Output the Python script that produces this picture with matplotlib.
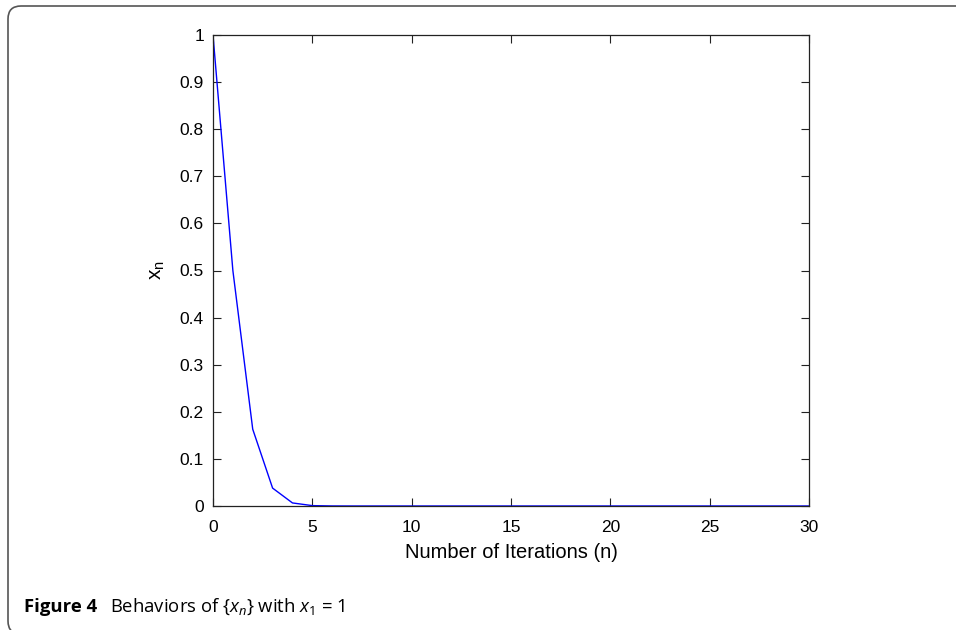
import numpy as np
import matplotlib.pyplot as plt
from matplotlib.patches import FancyBboxPatch

plt.rcParams['font.family'] = ['Liberation Sans', 'DejaVu Sans']
plt.rcParams['mathtext.fontset'] = 'custom'
plt.rcParams['mathtext.rm'] = 'Open Sans'
plt.rcParams['mathtext.it'] = 'Open Sans:italic'

n_values = np.arange(0, 31)
x_values = [1.0, 0.5, 0.163, 0.038, 0.0065, 0.0008, 0.0001] + [0.0] * 24

fig = plt.figure(figsize=(9.56, 6.3), dpi=100)

# journal figure frame (rounded, runs off the right and bottom edges)
frame = FancyBboxPatch((0.08, -0.04), 10.0, 6.28,
                       boxstyle="round,pad=0,rounding_size=0.13",
                       transform=fig.dpi_scale_trans, fill=False,
                       edgecolor='#555555', linewidth=1.2)
fig.patches.append(frame)

ax = fig.add_axes([213 / 956, 1 - 506 / 630, 596 / 956, 471 / 630])
ax.plot(n_values, x_values, color='#0000ff', linewidth=1)

ax.set_xlim(0, 30)
ax.set_ylim(0, 1)
ax.set_xticks(np.arange(0, 31, 5))
ax.set_yticks(np.round(np.arange(0, 1.01, 0.1), 1))
ax.set_yticklabels(['0', '0.1', '0.2', '0.3', '0.4', '0.5', '0.6', '0.7', '0.8', '0.9', '1'])
ax.tick_params(direction='in', length=6, width=0.8, top=True, right=True,
               labelsize=12.5, colors='#222222', labelcolor='black')
ax.tick_params(axis='x', pad=10)
ax.tick_params(axis='y', pad=6.5)
for sp in ax.spines.values():
    sp.set_linewidth(0.9)
    sp.set_color('#222222')

ax.set_xlabel('Number of Iterations (n)', fontsize=14.5, labelpad=6)
ax.set_ylabel('x$_\\mathregular{n}$', fontsize=15, labelpad=9,
              family='Liberation Sans')

fig.text(24 / 956, 1 - 612 / 630, 'Figure 4', fontsize=13.3, fontweight='bold',
         family='Open Sans', va='baseline', ha='left')
fig.text(110 / 956, 1 - 612 / 630, 'Behaviors of {$x_n$} with $x_\\mathrm{1}$ = 1',
         fontsize=13.3, family='Open Sans', va='baseline', ha='left')

fig.savefig('out.png', dpi=100)
